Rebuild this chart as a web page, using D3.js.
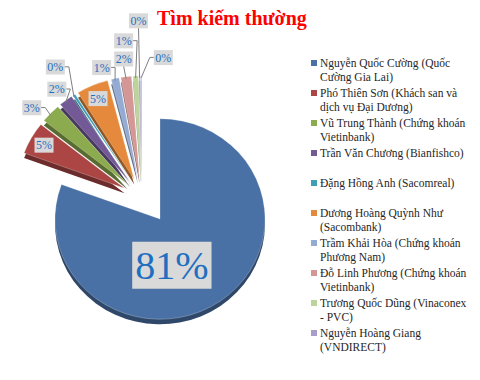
<!DOCTYPE html>
<html>
<head>
<meta charset="utf-8">
<script src="https://cdn.jsdelivr.net/npm/d3@7"></script>
<style>
  body { margin: 0; background: #fff; }
</style>
</head>
<body>
<div id="chart"></div>
<script>
const title = 'Tìm kiếm thường';

// share of searches, in percent (labels are rounded)
const shares = [80.6, 5.1, 3.0, 2.1, 0.4, 4.8, 1.2, 1.6, 0.8, 0.2, 0.2];

const sliceColors = ['#4A71A5', '#AC4644', '#8CAB4E', '#735A96', '#3E9EB6', '#E58A3C',
                     '#94ABD3', '#D59795', '#BCD39A', '#A99CC8', '#B9C7DE'];

// legend entries, already wrapped as in the picture (last slice has no entry)
const legendNames = [
  ['Nguyễn Quốc Cường (Quốc', 'Cường Gia Lai)'],
  ['Phó Thiên Sơn (Khách san và', 'dịch vụ Đại Dương)'],
  ['Vũ Trung Thành (Chứng khoán', 'Vietinbank)'],
  ['Trần Văn Chương (Bianfishco)'],
  ['Đặng Hồng Anh (Sacomreal)'],
  ['Dương Hoàng Quỳnh Như', '(Sacombank)'],
  ['Trầm Khải Hòa (Chứng khoán', 'Phương Nam)'],
  ['Đỗ Linh Phương (Chứng khoán', 'Vietinbank)'],
  ['Trương Quốc Dũng  (Vinaconex', '- PVC)'],
  ['Nguyễn Hoàng Giang', '(VNDIRECT)']
];

// label placement: distance from slice tip (in radii) and turn off the bisector (deg)
const labelDist = [0.47, 0.88, 1.19, 1.16, 1.35, 0.88, 1.16, 1.20, 1.38, 1.57, 1.22];
const labelTurn = [21, 0, -4, 0, 0, 0, -5, 0, -4, 0, 10];

const FONT = '"Liberation Serif", "DejaVu Serif", serif';
const width = 480, height = 380;
const cx = 160, cy = 219, r = 105, rSmall = 107, squash = 0.955;
const depth = 5;

const svg = d3.select('#chart').append('svg')
  .attr('width', width)
  .attr('height', height)
  .attr('viewBox', [0, 0, width, height])
  .style('font-family', FONT);

svg.append('text')
  .attr('x', 157)
  .attr('y', 25)
  .attr('fill', '#FF0000')
  .attr('font-size', 20)
  .attr('font-weight', 'bold')
  .text(title);

const pie = d3.pie().sort(null).value(d => d).startAngle(0).endAngle(2 * Math.PI);
const arc = d3.arc().innerRadius(0).outerRadius((d, i) => i === 0 ? r : rSmall);
const slices = pie(shares);

// every small slice is pulled up-left a bit, and a bit more along its own bisector
slices.forEach((d, i) => {
  const mid = (d.startAngle + d.endAngle) / 2;
  d.mid = mid;
  if (i === 0) {
    d.ox = 0; d.oy = 0;
  } else {
    d.ox = -18 + 20 * Math.sin(mid);
    d.oy = -21 - 20 * Math.cos(mid);
  }
  d.tipX = cx + d.ox;
  d.tipY = cy + d.oy;
  d.rad = i === 0 ? r : rSmall;
});

const pieG = svg.append('g');

// the side of the 3D slices
pieG.selectAll('path.side')
  .data(slices)
  .join('path')
    .attr('class', 'side')
    .attr('transform', d => `translate(${d.tipX},${d.tipY + depth}) scale(1,${squash})`)
    .attr('d', arc)
    .attr('fill', (d, i) => d3.color(sliceColors[i]).darker(1.3));

pieG.selectAll('path.face')
  .data(slices)
  .join('path')
    .attr('class', 'face')
    .attr('transform', d => `translate(${d.tipX},${d.tipY}) scale(1,${squash})`)
    .attr('d', arc)
    .attr('fill', (d, i) => sliceColors[i])
    .attr('stroke', 'rgba(255,255,255,0.5)')
    .attr('stroke-width', 0.5);

// data labels
const labelG = svg.append('g');
slices.forEach((d, i) => {
  const a = d.mid + labelTurn[i] * Math.PI / 180;
  const R = labelDist[i] * r;
  const lx = d.tipX + R * Math.sin(a);
  const ly = d.tipY - R * Math.cos(a) * squash;
  const big = i === 0;

  const g = labelG.append('g');
  const t = g.append('text')
    .attr('x', lx)
    .attr('y', ly)
    .attr('dy', '0.35em')
    .attr('text-anchor', 'middle')
    .attr('font-size', big ? 40 : 12)
    .attr('fill', '#1F6FC0')
    .text(Math.round(shares[i]) + '%');
  const b = t.node().getBBox();
  const padX = big ? 3 : 1.5, padY = big ? 1 : 0.5;
  g.insert('rect', 'text')
    .attr('x', b.x - padX)
    .attr('y', b.y - padY)
    .attr('width', b.width + padX * 2)
    .attr('height', b.height + padY * 2)
    .attr('fill', '#D9D9D9');

  if (labelDist[i] > 1) {
    const tx = d.tipX + d.rad * Math.sin(d.mid);
    const ty = d.tipY - d.rad * Math.cos(d.mid) * squash + 2;
    let pts;
    if (tx > lx + b.width * 0.3) {
      const sx = b.x + b.width + padX;
      pts = [[sx, ly], [sx + 4, ly], [tx, ty]];
    } else if (tx < lx - b.width * 0.3) {
      const sx = b.x - padX;
      pts = [[sx, ly], [sx - 4, ly], [tx, ty]];
    } else {
      pts = [[lx, b.y + b.height + padY], [tx, ty]];
    }
    labelG.append('path')
      .attr('d', d3.line()(pts))
      .attr('fill', 'none')
      .attr('stroke', '#808080')
      .attr('stroke-width', 1);
  }
});

// legend
const legend = svg.append('g').attr('transform', 'translate(311,63)');
const item = legend.selectAll('g')
  .data(legendNames)
  .join('g')
    .attr('transform', (d, i) => `translate(0,${i * 30})`);

item.append('rect')
  .attr('x', 0)
  .attr('y', -3)
  .attr('width', 6)
  .attr('height', 6)
  .attr('fill', (d, i) => sliceColors[i]);

item.append('text')
  .attr('font-size', 11.5)
  .attr('fill', '#262626')
  .selectAll('tspan')
  .data(d => d)
  .join('tspan')
    .attr('x', 9)
    .attr('y', (d, j) => 4 + j * 14)
    .text(d => d);
</script>
</body>
</html>
